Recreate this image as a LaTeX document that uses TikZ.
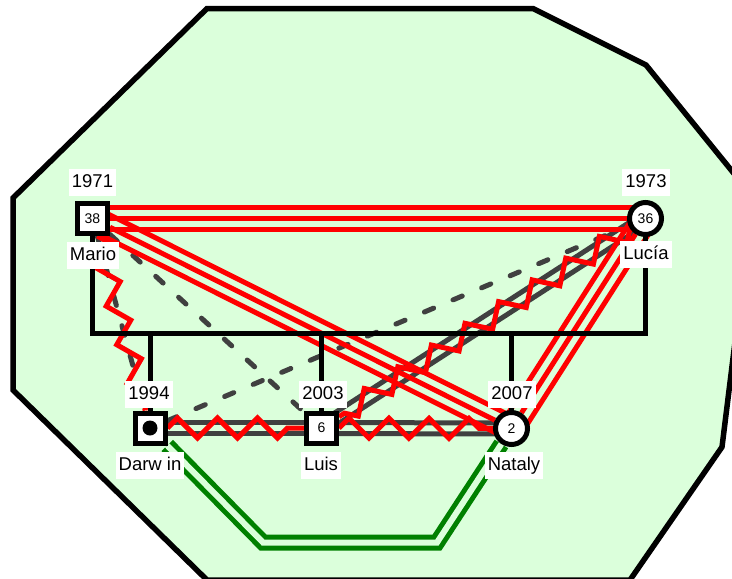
\documentclass[tikz,border=0pt]{standalone}
\usepackage{fontspec}
\setmainfont{Liberation Sans}
\usetikzlibrary{calc,decorations.pathmorphing}
\pgfdeclarelayer{bg}\pgfdeclarelayer{rel}\pgfdeclarelayer{fam}\pgfdeclarelayer{fg}
\pgfsetlayers{bg,rel,fam,main,fg}
\definecolor{bggreen}{RGB}{219,255,219}
\definecolor{relgray}{RGB}{64,64,64}
\definecolor{relgreen}{RGB}{0,128,0}
\definecolor{relred}{RGB}{255,0,0}
\tikzset{
 male/.style={rectangle, draw=black, fill=white, line width=5pt, minimum size=30pt, inner sep=0pt, font=\fontsize{14}{14}\selectfont},
 female/.style={circle, draw=black, fill=white, line width=5pt, minimum size=32pt, inner sep=0pt, font=\fontsize{14}{14}\selectfont},
 lbl/.style={fill=white, inner xsep=3pt, inner ysep=4.75pt, text height=13.5pt, text depth=4pt, font=\fontsize{18.5}{20}\selectfont},
 famline/.style={draw=black, line width=5pt},
 redl/.style={draw=relred, line width=5pt},
 grayl/.style={draw=relgray, line width=5pt},
 dashl/.style={draw=relgray, line width=5pt, line cap=round, dash pattern=on 10pt off 21pt},
 zig/.style={draw=relred, line width=5pt, line join=miter, decorate, decoration={zigzag, segment length=40pt, amplitude=10pt}},
 greenl/.style={draw=relgreen, line width=5pt, double=bggreen, double distance=6pt},
}
\newcommand\tripleline[2]{%
 \draw[redl] (#1) -- (#2);
 \draw[redl] ($(#1.center)!11pt!90:(#2.center)$) -- ($(#2.center)!11pt!-90:(#1.center)$);
 \draw[redl] ($(#1.center)!11pt!-90:(#2.center)$) -- ($(#2.center)!11pt!90:(#1.center)$);}
\newcommand\dblline[2]{%
 \draw[grayl] ($(#1.center)!5.5pt!90:(#2.center)$) -- ($(#2.center)!5.5pt!-90:(#1.center)$);
 \draw[grayl] ($(#1.center)!5.5pt!-90:(#2.center)$) -- ($(#2.center)!5.5pt!90:(#1.center)$);}
\begin{document}
\begin{tikzpicture}[x=1pt,y=-1pt]
\useasboundingbox (0,0) rectangle (732,579);
\begin{pgfonlayer}{bg}
\begin{scope}
\clip (0,0) rectangle (732,579);
\filldraw[fill=bggreen, draw=black, line width=5.5pt, line join=miter]
 (207,8.5) -- (533,8.5) -- (646,65) -- (753,197) -- (722,447) -- (630,580) -- (207,580) -- (13,390) -- (13,198) -- cycle;
\end{scope}
\end{pgfonlayer}
% persons
\node[male] (mario) at (92.5,218.5) {38};
\node[female] (lucia) at (645.5,218.5) {36};
\node[male] (darwin) at (150,428) {};
\fill (darwin.center) circle[radius=7.5pt];
\node[male] (luis) at (321.5,428) {6};
\node[female] (nataly) at (511.5,428.5) {2};
% labels
\begin{pgfonlayer}{fg}
\node[lbl] (y1971) at (92.5,182.5) {1971};
\node[lbl] (lmario) at (93,255.5) {Mario};
\node[lbl] (y1973) at (646,182.5) {1973};
\node[lbl] (llucia) at (646,254.5) {Lucía};
\node[lbl] (y1994) at (149,394.5) {1994};
\node[lbl] (ldarwin) at (150,465.5) {Darw in};
\node[lbl] (y2003) at (323,394.5) {2003};
\node[lbl] (lluis) at (321,465.5) {Luis};
\node[lbl] (y2007) at (512,394.5) {2007};
\node[lbl] (lnataly) at (514,465.5) {Nataly};
\end{pgfonlayer}
% family lines
\begin{pgfonlayer}{fam}
\coordinate (famL) at (92.5,333);
\coordinate (famR) at (645.5,333);
\draw[famline] (mario) -- (famL) -- (famR) -- (lucia);
\draw[famline] (darwin |- famL) -- (darwin);
\draw[famline] (luis |- famL) -- (luis);
\draw[famline] (nataly |- famL) -- (nataly);
\end{pgfonlayer}
% relationships
\begin{pgfonlayer}{rel}
\draw[greenl] (darwin) -- (263,542.5) -- (437,542.5) -- (nataly);
\draw[dashl] (mario) -- (darwin);
\draw[dashl] (mario) -- (luis);
\draw[dashl] (darwin) -- (lucia);
\dblline{darwin}{luis}
\dblline{luis}{nataly}
\dblline{luis}{lucia}
\tripleline{mario}{lucia}
\tripleline{mario}{nataly}
\tripleline{lucia}{nataly}
\draw[zig] (mario) -- (darwin);
\draw[zig] (darwin) -- (luis);
\draw[zig] (luis) -- (nataly);
\draw[zig] (lucia) -- (luis);
\end{pgfonlayer}
\end{tikzpicture}
\end{document}
